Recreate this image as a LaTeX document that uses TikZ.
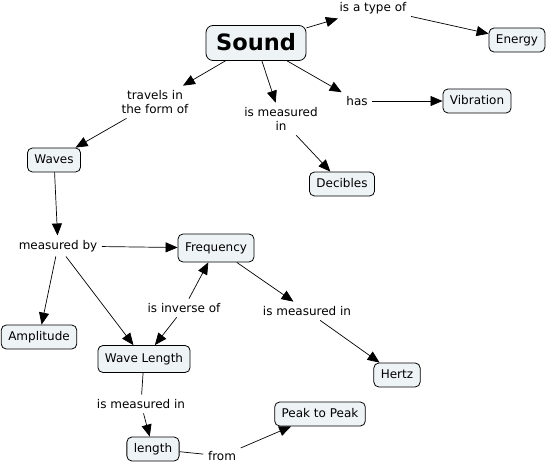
\documentclass[tikz,border=0pt]{standalone}
\usepackage{fontspec}
\setmainfont{DejaVu Sans}
\usetikzlibrary{arrows.meta}
\definecolor{cfill}{RGB}{238,243,246}
\begin{document}
\begin{tikzpicture}[x=1pt,y=-1pt,
  concept/.style={draw=black, line width=0.8pt, rounded corners=5pt, fill=cfill,
    font=\fontsize{12}{14}\selectfont, inner xsep=7pt, inner ysep=6.5pt,
    text height=8.5pt, text depth=2.5pt},
  linkphrase/.style={font=\fontsize{12}{14}\selectfont, inner sep=4.5pt, align=center},
  conn/.style={line width=0.7pt},
  arr/.style={conn, -{Triangle[length=12pt,width=10pt]}}]
\useasboundingbox (0,0) rectangle (550,466);
% concepts
\node[concept, minimum width=100pt, minimum height=35pt, rounded corners=7pt,
  font=\fontsize{22.5}{24}\bfseries, text height=16pt, text depth=1pt] (sound) at (256,43) {Sound};
\node[concept] (energy) at (517,40) {Energy};
\node[concept] (vibration) at (477,101) {Vibration};
\node[concept] (waves) at (54,160) {Waves};
\node[concept] (decibles) at (342,184) {Decibles};
\node[concept, minimum height=28pt] (frequency) at (216,248) {Frequency};
\node[concept] (amplitude) at (39,337) {Amplitude};
\node[concept, minimum height=27pt] (wavelength) at (144,359) {Wave Length};
\node[concept] (hertz) at (397,375) {Hertz};
\node[concept] (peak) at (320,414) {Peak to Peak};
\node[concept] (length) at (153,449) {length};
% linking phrases
\node[linkphrase] (typeof) at (373,8) {is a type of};
\node[linkphrase] (travels) at (155,102) {travels in\\the form of};
\node[linkphrase] (ismeasA) at (281,119) {is measured\\in};
\node[linkphrase] (has) at (357,101) {has};
\node[linkphrase] (measby) at (58,246) {measured by};
\node[linkphrase] (inverse) at (184,308) {is inverse of};
\node[linkphrase] (ismeasB) at (307,311) {is measured in};
\node[linkphrase] (ismeasC) at (141,404) {is measured in};
\node[linkphrase] (from) at (222,456) {from};
% connectors
\draw[arr] (sound) -- (typeof);
\draw[arr] (typeof) -- (energy);
\draw[arr] (sound) -- (travels);
\draw[arr] (travels) -- (waves);
\draw[arr] (sound) -- (ismeasA);
\draw[arr] (ismeasA) -- (decibles);
\draw[arr] (sound) -- (has);
\draw[arr] (has) -- (vibration);
\draw[arr] (waves) -- (measby);
\draw[arr] (measby) -- (frequency);
\draw[arr] (measby) -- (amplitude);
\draw[arr] (measby) -- (wavelength);
\draw[arr] (frequency) -- (ismeasB);
\draw[arr] (ismeasB) -- (hertz);
\draw[arr] (inverse) -- (frequency);
\draw[arr] (inverse) -- (wavelength);
\draw[conn] (wavelength) -- (ismeasC);
\draw[arr] (ismeasC) -- (length);
\draw[conn] (length) -- (from);
\draw[arr] (from) -- (peak);
\end{tikzpicture}
\end{document}
